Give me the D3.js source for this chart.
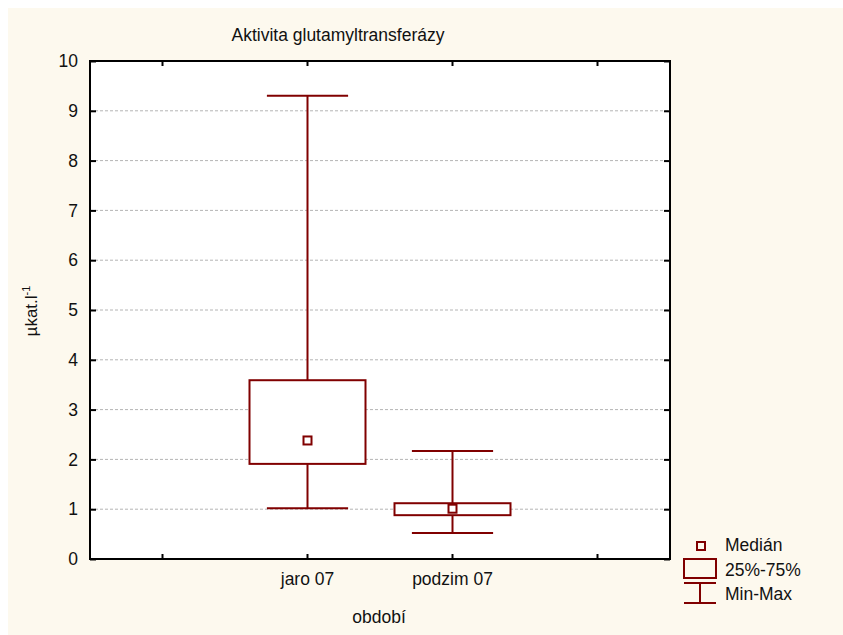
<!DOCTYPE html>
<html>
<head>
<meta charset="utf-8">
<script src="https://cdn.jsdelivr.net/npm/d3@7/dist/d3.min.js"></script>
<style>
  html, body { margin: 0; padding: 0; background: #ffffff; }
  svg { display: block; font-family: "Liberation Sans", Arial, sans-serif; }
</style>
</head>
<body>
<svg id="chart" width="843" height="635"></svg>
<script>
// Box plot data for each period (µkat/l)
const categories = ["jaro 07", "podzim 07"];
const medians = [2.38, 1.01];
const q1 = [1.91, 0.88];
const q3 = [3.59, 1.12];
const mins = [1.02, 0.52];
const maxs = [9.30, 2.17];
const yTicks = [0, 1, 2, 3, 4, 5, 6, 7, 8, 9, 10];
const legendLabels = ["Medián", "25%-75%", "Min-Max"];

const color = "#800000";
const fontSize = "17.5px";
const svg = d3.select("#chart");

// page background
svg.append("rect").attr("x", 8).attr("y", 8).attr("width", 835).attr("height", 627)
  .attr("fill", "#fdf9ee");

const plot = { left: 90, top: 61, right: 670, bottom: 559 };

// four slots along x: an empty one on each side of the two periods
const slots = ["_a", ...categories, "_b"];
const x = d3.scaleBand().domain(slots).range([plot.left, plot.right]).padding(0);
const y = d3.scaleLinear().domain([0, 10]).range([plot.bottom, plot.top]);
const cx = c => x(c) + x.bandwidth() / 2;

svg.append("rect")
  .attr("x", plot.left).attr("y", plot.top)
  .attr("width", plot.right - plot.left).attr("height", plot.bottom - plot.top)
  .attr("fill", "#ffffff");

// dashed grid lines
svg.append("g").selectAll("line")
  .data(yTicks.filter(t => t > 0 && t < 10))
  .join("line")
  .attr("x1", plot.left).attr("x2", plot.right)
  .attr("y1", d => y(d)).attr("y2", d => y(d))
  .attr("stroke", "#b4b4b4").attr("stroke-width", 1)
  .attr("stroke-dasharray", "3,2");

// axes
const fmtX = d => categories.includes(d) ? d : "";
const styleAxis = g => {
  g.attr("font-size", null).attr("font-family", null);
  g.select(".domain").remove();
  g.selectAll(".tick line").attr("stroke", "#000").attr("stroke-width", 2);
  g.selectAll(".tick text").attr("fill", "#111").style("font-size", fontSize);
};

svg.append("g").attr("transform", `translate(${plot.left},0)`)
  .call(d3.axisLeft(y).tickValues(yTicks).tickSizeInner(-6).tickSizeOuter(0).tickPadding(12))
  .call(styleAxis);
svg.append("g").attr("transform", `translate(${plot.right},0)`)
  .call(d3.axisRight(y).tickValues(yTicks).tickSizeInner(-6).tickSizeOuter(0).tickFormat(""))
  .call(styleAxis);
svg.append("g").attr("transform", `translate(0,${plot.bottom})`)
  .call(d3.axisBottom(x).tickFormat(fmtX).tickSizeInner(-5).tickSizeOuter(0).tickPadding(14))
  .call(styleAxis);
svg.append("g").attr("transform", `translate(0,${plot.top})`)
  .call(d3.axisTop(x).tickFormat("").tickSizeInner(-5).tickSizeOuter(0))
  .call(styleAxis);

// frame
svg.append("rect")
  .attr("x", plot.left).attr("y", plot.top)
  .attr("width", plot.right - plot.left).attr("height", plot.bottom - plot.top)
  .attr("fill", "none").attr("stroke", "#000").attr("stroke-width", 2);

// boxes
const boxW = x.bandwidth() * 0.8;
const capW = x.bandwidth() * 0.56;
const g = svg.append("g");
categories.forEach((c, i) => {
  const mx = cx(c);
  g.append("line").attr("x1", mx).attr("x2", mx)
    .attr("y1", y(maxs[i])).attr("y2", y(q3[i]))
    .attr("stroke", color).attr("stroke-width", 2);
  g.append("line").attr("x1", mx).attr("x2", mx)
    .attr("y1", y(q1[i])).attr("y2", y(mins[i]))
    .attr("stroke", color).attr("stroke-width", 2);
  [maxs[i], mins[i]].forEach(v => {
    g.append("line").attr("x1", mx - capW / 2).attr("x2", mx + capW / 2)
      .attr("y1", y(v)).attr("y2", y(v))
      .attr("stroke", color).attr("stroke-width", 2);
  });
  g.append("rect").attr("x", mx - boxW / 2).attr("y", y(q3[i]))
    .attr("width", boxW).attr("height", y(q1[i]) - y(q3[i]))
    .attr("fill", "#ffffff").attr("stroke", color).attr("stroke-width", 2);
  g.append("rect").attr("x", mx - 4).attr("y", y(medians[i]) - 4)
    .attr("width", 8).attr("height", 8)
    .attr("fill", "#ffffff").attr("stroke", color).attr("stroke-width", 2);
});

// titles
svg.append("text").attr("x", 338).attr("y", 41).attr("text-anchor", "middle")
  .style("font-size", fontSize).attr("fill", "#111").text("Aktivita glutamyltransferázy");
svg.append("text").attr("x", 379).attr("y", 623).attr("text-anchor", "middle")
  .style("font-size", fontSize).attr("fill", "#111").text("období");
const yl = svg.append("text")
  .attr("transform", "translate(37,311) rotate(-90)")
  .attr("text-anchor", "middle").style("font-size", "17px").attr("fill", "#111");
yl.append("tspan").text("µkat.l");
yl.append("tspan").attr("dy", -7).style("font-size", "11px").text("-1");

// legend
const lg = svg.append("g");
lg.append("rect").attr("x", 697).attr("y", 542).attr("width", 8).attr("height", 8)
  .attr("fill", "none").attr("stroke", color).attr("stroke-width", 2);
lg.append("rect").attr("x", 684).attr("y", 559).attr("width", 32).attr("height", 19)
  .attr("fill", "none").attr("stroke", color).attr("stroke-width", 2);
lg.append("line").attr("x1", 684).attr("x2", 716).attr("y1", 583).attr("y2", 583)
  .attr("stroke", color).attr("stroke-width", 2);
lg.append("line").attr("x1", 684).attr("x2", 716).attr("y1", 603).attr("y2", 603)
  .attr("stroke", color).attr("stroke-width", 2);
lg.append("line").attr("x1", 700).attr("x2", 700).attr("y1", 583).attr("y2", 603)
  .attr("stroke", color).attr("stroke-width", 2);
lg.selectAll("text").data(legendLabels).join("text")
  .attr("x", 725).attr("y", (d, i) => 551 + i * 24.5)
  .style("font-size", fontSize).attr("fill", "#111").text(d => d);
</script>
</body>
</html>
